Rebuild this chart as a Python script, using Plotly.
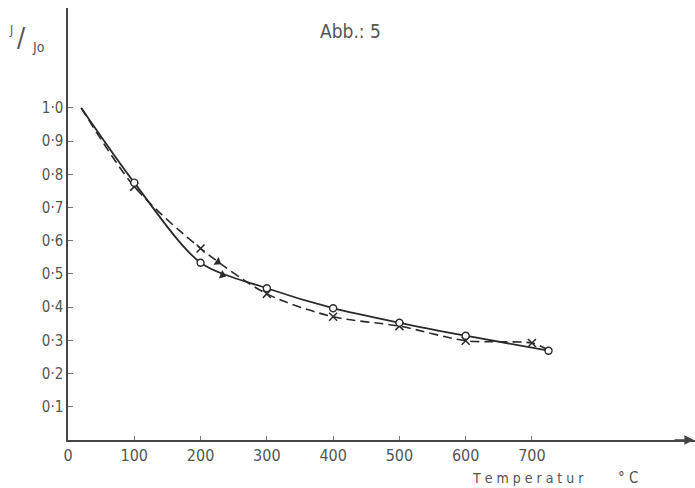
import plotly.graph_objects as go

# Solid curve (open circles)
solid_temps = [20, 100, 200, 300, 400, 500, 600, 725]
solid_vals = [1.0, 0.775, 0.534, 0.457, 0.397, 0.353, 0.314, 0.269]
# Dashed curve (crosses)
dash_temps = [20, 100, 200, 300, 400, 500, 600, 700, 722]
dash_vals = [1.0, 0.763, 0.577, 0.44, 0.371, 0.343, 0.299, 0.292, 0.274]
# arrowheads drawn on the curves
arrow_solid = ([233], [0.497])
arrow_dash = ([226], [0.536])

x_ticks = [0, 100, 200, 300, 400, 500, 600, 700]
y_ticks = [0.1, 0.2, 0.3, 0.4, 0.5, 0.6, 0.7, 0.8, 0.9, 1.0]
y_ticktext = ["0·1", "0·2", "0·3", "0·4", "0·5", "0·6", "0·7", "0·8", "0·9", "1·0"]

ink = "#2a2a2a"
txt = "#555555"
font = "DejaVu Sans Condensed, DejaVu Sans, sans-serif"

fig = go.Figure()
fig.add_trace(go.Scatter(x=dash_temps, y=dash_vals, mode="lines",
                         line=dict(color=ink, width=1.6, dash="9px,5px", shape="spline", smoothing=0.8),
                         hoverinfo="skip"))
fig.add_trace(go.Scatter(x=solid_temps, y=solid_vals, mode="lines",
                         line=dict(color=ink, width=1.8, shape="spline", smoothing=0.8),
                         hoverinfo="skip"))
fig.add_trace(go.Scatter(x=dash_temps[1:-1], y=dash_vals[1:-1], mode="markers",
                         marker=dict(symbol="x-thin-open", size=8, color=ink, line=dict(color=ink, width=1.5))))
fig.add_trace(go.Scatter(x=solid_temps[1:], y=solid_vals[1:], mode="markers",
                         marker=dict(symbol="circle", size=7, color="white",
                                     line=dict(color=ink, width=1.4))))
fig.add_trace(go.Scatter(x=arrow_dash[0], y=arrow_dash[1], mode="markers",
                         marker=dict(symbol="triangle-right", size=8, angle=34, color=ink)))
fig.add_trace(go.Scatter(x=arrow_solid[0], y=arrow_solid[1], mode="markers",
                         marker=dict(symbol="triangle-right", size=8, angle=21, color=ink)))


def px_x(px):
    return (px - 68) / 627


def px_y(py):
    return (440 - py) / 432


def label(text, x, y, size):
    return dict(text=text, xref="paper", yref="paper", x=px_x(x), y=px_y(y),
                xanchor="center", yanchor="middle", showarrow=False,
                font=dict(size=size, family=font, color=txt))


fig.update_layout(
    width=695, height=488,
    margin=dict(l=68, r=0, t=8, b=48),
    paper_bgcolor="white", plot_bgcolor="white",
    showlegend=False,
    font=dict(family=font, color=txt, size=14),
    xaxis=dict(range=[0, 946], showgrid=False, zeroline=False, showline=True,
               linecolor="#444444", linewidth=1.5, ticks="inside", ticklen=4,
               tickcolor="#777777", tickvals=x_ticks,
               ticktext=[str(v) for v in x_ticks], tickfont=dict(size=16, family=font, color=txt)),
    yaxis=dict(range=[0, 1.301], showgrid=False, zeroline=False, showline=True,
               linecolor="#444444", linewidth=1.5, ticks="inside", ticklen=5,
               tickcolor="#777777", tickvals=y_ticks, ticktext=y_ticktext,
               tickfont=dict(size=15, family=font, color=txt)),
    annotations=[
        label("Abb.: 5", 350, 31, 19),
        label("J", 11, 30, 12),
        label("/", 21, 37, 27),
        label("Jo", 38, 47, 14),
        label("T e m p e r a t u r", 528, 478, 14),
        label("° C", 628, 478, 15),
        dict(text="", xref="paper", yref="paper", x=1, y=0, ax=-22, ay=0,
             showarrow=True, arrowhead=2, arrowsize=1.2, arrowwidth=1.6, arrowcolor="#444444"),
    ],
)

fig.write_html("out.html")
